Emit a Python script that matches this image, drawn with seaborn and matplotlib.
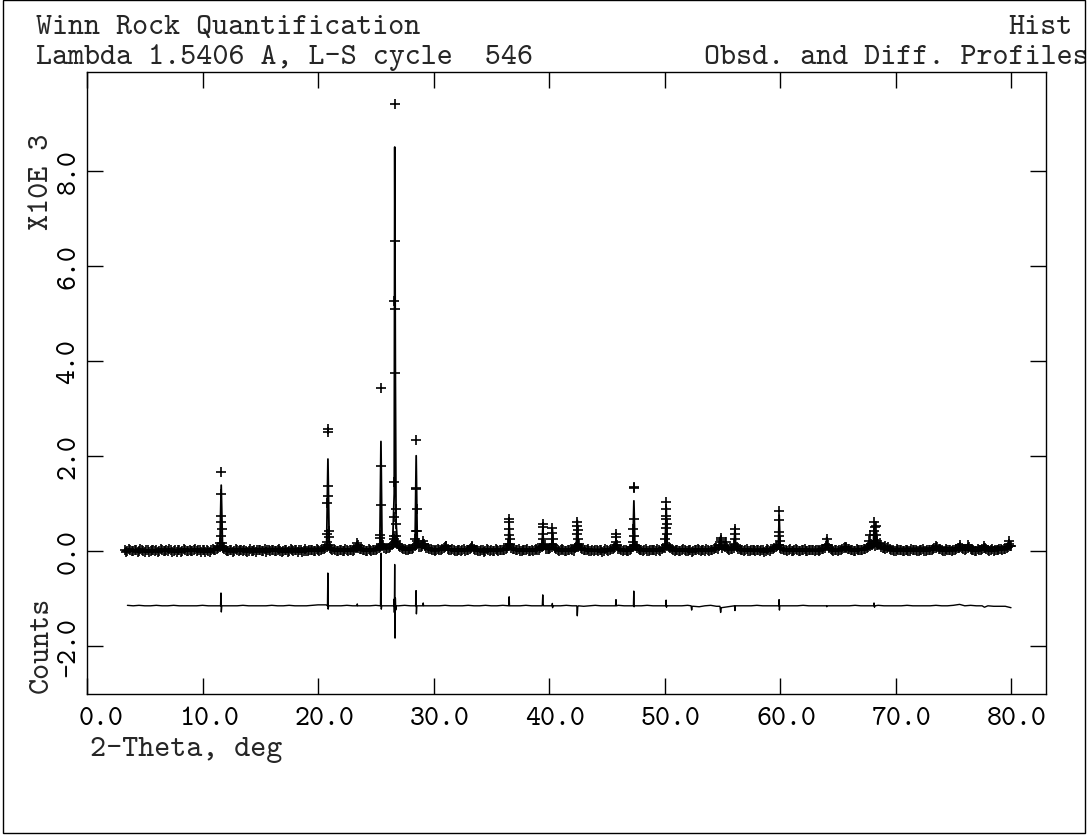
import numpy as np
import pandas as pd
import matplotlib
matplotlib.use("Agg")
import matplotlib.pyplot as plt
import seaborn as sns
from matplotlib.patches import Rectangle
from matplotlib.transforms import ScaledTranslation

# ---------------- data (2-theta in deg, counts in thousands) ----------------
# background observations, step scan read at 0.25 deg (grid A) and offset 0.125 deg (grid B)
base_start, base_step = 3.25, 0.25
obs_base = [
    0.01, -0.01, 0.02,                       # 3.25-3.75
    0.00, 0.02, -0.01, 0.01,   -0.02, 0.01, 0.00, 0.02,   0.01, -0.01, 0.01, 0.00,   # 4-6
    -0.01, 0.02, 0.00, -0.02,  0.01, 0.00, 0.02, -0.01,   0.00, 0.01, -0.01, 0.02,   # 7-9
    0.01, -0.02, 0.00, 0.01,   0.01, 0.03, 0.07, 0.06,    0.02, 0.00, 0.01, -0.01,   # 10-12
    0.01, 0.02, -0.01, 0.00,   0.00, -0.01, 0.02, 0.01,   0.01, 0.00, -0.02, 0.01,   # 13-15
    0.02, -0.01, 0.01, 0.00,   -0.01, 0.01, 0.00, 0.02,   0.01, -0.02, 0.01, 0.00,   # 16-18
    0.00, 0.02, 0.01, -0.01,   0.01, 0.02, 0.04, 0.08,    0.05, 0.02, 0.01, 0.00,    # 19-21
    0.01, -0.01, 0.02, 0.01,   0.00, 0.05, 0.06, 0.03,    0.01, 0.00, 0.02, 0.01,    # 22-24
    0.02, 0.05, 0.10, 0.06,    0.05, 0.08, 0.14, 0.20,    0.10, 0.05, 0.03, 0.02,    # 25-27
    0.03, 0.06, 0.12, 0.08,    0.10, 0.09, 0.05, 0.03,    0.02, 0.01, 0.02, 0.03,    # 28-30
    0.08, 0.04, 0.02, 0.01,    0.00, 0.02, 0.01, 0.00,    0.02, 0.06, 0.03, 0.01,    # 31-33
    0.00, 0.01, -0.01, 0.02,   0.01, 0.00, 0.02, 0.01,    0.02, 0.04, 0.10, 0.06,    # 34-36
    0.03, 0.01, 0.00, 0.02,    0.01, 0.00, 0.02, 0.01,    0.02, 0.05, 0.09, 0.04,    # 37-39
    0.03, 0.08, 0.05, 0.02,    0.01, 0.02, 0.00, 0.01,    0.02, 0.05, 0.10, 0.05,    # 40-42
    0.02, 0.01, 0.00, 0.02,    0.01, -0.01, 0.01, 0.00,   0.02, 0.01, 0.04, 0.08,    # 43-45
    0.04, 0.02, 0.01, 0.00,    0.02, 0.07, 0.09, 0.04,    0.02, 0.01, 0.00, 0.02,    # 46-48
    0.01, 0.00, 0.02, 0.03,    0.06, 0.10, 0.05, 0.02,    0.01, 0.00, 0.02, 0.01,    # 49-51
    0.00, 0.01, -0.01, 0.02,   0.01, 0.02, 0.00, 0.01,    0.02, 0.03, 0.06, 0.09,    # 52-54
    0.06, 0.08, 0.04, 0.03,    0.06, 0.08, 0.03, 0.01,    0.02, 0.00, 0.01, 0.02,    # 55-57
    0.01, -0.01, 0.02, 0.00,   0.01, 0.03, 0.05, 0.09,    0.06, 0.03, 0.01, 0.02,    # 58-60
    0.00, 0.01, 0.02, -0.01,   0.01, 0.00, 0.02, 0.01,    0.00, 0.02, 0.01, 0.03,    # 61-63
    0.09, 0.05, 0.02, 0.01,    0.00, 0.02, 0.05, 0.06,    0.03, 0.01, 0.00, 0.02,    # 64-66
    0.01, 0.03, 0.05, 0.10,    0.12, 0.10, 0.14, 0.08,    0.05, 0.06, 0.03, 0.01,    # 67-69
    0.00, 0.02, 0.01, -0.01,   0.01, 0.00, 0.02, 0.01,    0.00, 0.01, -0.01, 0.02,   # 70-72
    0.01, 0.03, 0.06, 0.04,    0.02, 0.00, 0.01, 0.02,    0.01, 0.03, 0.06, 0.05,    # 73-75
    0.02, 0.05, 0.03, 0.01,    0.00, 0.02, 0.04, 0.05,    0.02, 0.01, 0.00, 0.02,    # 76-78
    0.03, 0.02, 0.04, 0.07,    0.10,                                                 # 79-80
]
base_mid_start = 3.375
obs_base_mid = [
    -0.02, 0.03, 0.00,                                                                   # 3.375-3.875
    0.02, -0.02, 0.03, -0.01,  0.01, -0.03, 0.02, 0.00,   -0.02, 0.03, -0.01, 0.02,    # 4-6
    0.03, -0.02, 0.01, 0.02,   -0.02, 0.03, 0.00, 0.02,   -0.01, 0.03, 0.02, -0.02,    # 7-9
    0.02, 0.01, -0.02, 0.03,   0.01, 0.05, 0.10, 0.04,    0.00, 0.02, -0.02, 0.03,     # 10-12
    -0.01, 0.02, 0.01, -0.02,  0.03, 0.00, -0.02, 0.02,   -0.01, 0.03, 0.01, -0.01,    # 13-15
    0.02, 0.00, 0.03, -0.02,   0.01, -0.02, 0.03, 0.00,   0.02, 0.01, -0.02, 0.03,     # 16-18
    -0.01, 0.02, 0.00, 0.03,   -0.01, 0.03, 0.06, 0.12,   0.03, 0.04, -0.01, 0.02,     # 19-21
    0.00, 0.03, -0.01, 0.02,   0.02, 0.08, 0.04, 0.01,    -0.01, 0.03, 0.00, 0.02,     # 22-24
    0.03, 0.07, 0.12, 0.04,    0.06, 0.11, 0.18, 0.14,    0.07, 0.04, 0.02, 0.03,      # 25-27
    0.04, 0.09, 0.16, 0.07,    0.14, 0.06, 0.03, 0.02,    0.00, 0.03, 0.01, 0.05,      # 28-30
    0.10, 0.02, 0.03, -0.01,   0.02, -0.01, 0.03, 0.01,   0.04, 0.09, 0.02, 0.00,      # 31-33
    0.02, -0.02, 0.03, 0.00,   -0.01, 0.03, 0.00, 0.02,   0.01, 0.06, 0.14, 0.04,      # 34-36
    0.02, 0.03, -0.01, 0.01,   0.03, -0.01, 0.00, 0.03,   0.01, 0.08, 0.12, 0.03,      # 37-39
    0.05, 0.12, 0.03, 0.00,    0.03, -0.01, 0.02, 0.03,   0.00, 0.07, 0.14, 0.03,      # 40-42
    0.01, 0.03, -0.01, 0.00,   0.02, 0.01, -0.02, 0.03,   0.00, 0.03, 0.06, 0.12,      # 43-45
    0.03, 0.00, 0.02, -0.01,   0.04, 0.12, 0.06, 0.02,    0.00, 0.03, -0.01, 0.01,     # 46-48
    0.02, 0.03, 0.00, 0.05,    0.12, 0.07, 0.03, 0.00,    0.02, -0.01, 0.03, 0.00,     # 49-51
    0.02, -0.02, 0.01, 0.03,   0.00, 0.02, 0.03, -0.01,   0.01, 0.05, 0.04, 0.12,      # 52-54
    0.10, 0.05, 0.02, 0.04,    0.10, 0.04, 0.02, 0.00,    0.03, -0.01, 0.02, 0.00,     # 55-57
    0.02, 0.01, -0.02, 0.03,   0.00, 0.04, 0.07, 0.13,    0.04, 0.02, 0.00, 0.03,      # 58-60
    -0.01, 0.03, 0.00, 0.02,   0.03, -0.01, 0.01, 0.02,   0.01, 0.00, 0.03, 0.05,      # 61-63
    0.12, 0.03, 0.00, 0.02,    0.01, 0.03, 0.08, 0.04,    0.02, 0.00, 0.03, 0.01,      # 64-66
    0.02, 0.04, 0.08, 0.14,    0.16, 0.12, 0.17, 0.06,    0.04, 0.08, 0.02, 0.00,      # 67-69
    0.03, 0.01, -0.01, 0.02,   0.00, 0.03, 0.01, -0.01,   0.02, 0.03, 0.00, 0.01,      # 70-72
    0.02, 0.05, 0.08, 0.03,    0.00, 0.03, 0.02, 0.00,    0.02, 0.05, 0.08, 0.04,      # 73-75
    0.04, 0.07, 0.02, 0.00,    0.03, 0.01, 0.06, 0.04,    0.00, 0.03, 0.01, 0.02,      # 76-78
    0.04, 0.03, 0.06, 0.09,                                                              # 79
]

obs_peak_tth = [
    11.54, 11.56, 11.58, 11.60, 11.62, 11.64, 11.66, 11.68,
    20.78, 20.80, 20.82, 20.84, 20.86, 20.88, 20.90, 20.92, 20.94,
    23.38, 23.40, 23.42,
    25.39, 25.41, 25.43, 25.45, 25.47, 25.49,
    26.54, 26.56, 26.58, 26.60, 26.62, 26.64, 26.66, 26.68, 26.70, 26.72, 26.74, 26.76,
    28.44, 28.46, 28.48, 28.50, 28.52, 28.54, 28.56, 28.58,
    29.10, 29.14, 31.05, 33.30,
    36.49, 36.51, 36.53, 36.55, 36.57, 36.59,
    39.42, 39.44, 39.46, 39.48, 39.50,
    40.26, 40.28, 40.30, 40.32,
    42.39, 42.41, 42.43, 42.45, 42.47, 42.49,
    45.78, 45.80, 45.82,
    47.29, 47.31, 47.33, 47.35, 47.37, 47.39,
    50.07, 50.09, 50.11, 50.13, 50.15, 50.17, 50.19, 50.21,
    54.83, 54.87, 54.90, 55.30,
    56.06, 56.08, 56.10, 56.12,
    59.87, 59.89, 59.91, 59.93, 59.95, 59.97,
    64.03, 64.05, 65.70,
    67.73, 67.77, 68.11, 68.15, 68.19, 68.31, 68.35, 68.39,
    69.10, 73.50, 75.60, 76.30, 77.70, 79.80, 79.85,
]
obs_peak_cnt = [
    0.16, 0.30, 0.60, 1.19, 1.66, 0.73, 0.46, 0.16,
    0.18, 0.35, 1.00, 2.49, 2.56, 1.36, 1.15, 0.41, 0.28,
    0.10, 0.16, 0.12,
    0.27, 0.33, 0.96, 3.42, 1.79, 0.15,
    0.25, 0.31, 0.71, 1.45, 5.26, 9.40, 6.52, 5.08, 3.75, 0.88, 0.56, 0.31,
    0.25, 0.41, 1.30, 2.33, 1.32, 0.88, 0.41, 0.20,
    0.21, 0.15, 0.10, 0.08,
    0.15, 0.33, 0.61, 0.67, 0.46, 0.25,
    0.15, 0.35, 0.56, 0.50, 0.25,
    0.15, 0.37, 0.47, 0.25,
    0.12, 0.35, 0.52, 0.60, 0.44, 0.25,
    0.18, 0.35, 0.29,
    0.18, 0.46, 1.34, 1.33, 0.67, 0.31,
    0.25, 0.47, 0.74, 1.03, 0.88, 0.67, 0.56, 0.35,
    0.18, 0.27, 0.22, 0.18,
    0.14, 0.35, 0.46, 0.25,
    0.12, 0.31, 0.65, 0.84, 0.40, 0.21,
    0.12, 0.25, 0.08,
    0.21, 0.33, 0.41, 0.60, 0.50, 0.33, 0.52, 0.21,
    0.10, 0.10, 0.13, 0.12, 0.10, 0.15, 0.21,
]

calc_tth = [
    3.25,
    11.50, 11.62, 11.74,
    20.74, 20.86, 20.98,
    23.32, 23.40, 23.48,
    25.35, 25.45, 25.55,
    26.45, 26.60, 26.645, 26.70, 26.76, 26.90,
    28.40, 28.50, 28.60,
    29.04, 29.12, 29.20,
    36.45, 36.55, 36.65,
    39.38, 39.46, 39.55,
    40.22, 40.30, 40.38,
    42.35, 42.45, 42.55,
    45.72, 45.80, 45.88,
    47.25, 47.35, 47.45,
    50.05, 50.15, 50.25,
    54.80, 54.87, 54.95,
    56.02, 56.10, 56.18,
    59.85, 59.93, 60.02,
    63.98, 64.05, 64.12,
    68.05, 68.15, 68.25, 68.35, 68.45,
    80.00,
]
calc_cnt = [
    0.01,
    0.04, 1.38, 0.04,
    0.05, 1.93, 0.05,
    0.03, 0.12, 0.03,
    0.04, 2.30, 0.05,
    0.08, 1.20, 8.50, 3.60, 0.60, 0.08,
    0.06, 2.00, 0.10,
    0.06, 0.17, 0.04,
    0.03, 0.58, 0.03,
    0.03, 0.46, 0.03,
    0.03, 0.45, 0.03,
    0.03, 0.64, 0.03,
    0.03, 0.25, 0.03,
    0.03, 1.05, 0.03,
    0.04, 0.92, 0.04,
    0.03, 0.30, 0.03,
    0.03, 0.50, 0.03,
    0.04, 0.75, 0.04,
    0.03, 0.28, 0.03,
    0.05, 0.50, 0.10, 0.42, 0.04,
    0.08,
]

diff_start, diff_step = 3.5, 0.5
diff_base = [
    -1.15, -1.16, -1.15, -1.16, -1.16, -1.15, -1.16, -1.16, -1.15, -1.16, -1.16, -1.16, -1.16, -1.15,
    -1.16, -1.16, -1.15, -1.16, -1.16, -1.16, -1.15, -1.16, -1.16, -1.16,
    -1.16, -1.15, -1.16, -1.16, -1.15, -1.16, -1.16, -1.16, -1.15, -1.14,
    -1.14, -1.16, -1.16, -1.16, -1.15, -1.16, -1.15, -1.16, -1.16, -1.15,
    -1.14, -1.16, -1.15, -1.16, -1.15, -1.16, -1.15, -1.16, -1.16, -1.16,
    -1.16, -1.15, -1.16, -1.16, -1.16, -1.15, -1.16, -1.16, -1.15, -1.16,
    -1.16, -1.15, -1.16, -1.16, -1.16, -1.15, -1.16, -1.16, -1.15, -1.16,
    -1.16, -1.16, -1.15, -1.16, -1.18, -1.17, -1.16, -1.15, -1.16, -1.16,
    -1.16, -1.15, -1.16, -1.16, -1.16, -1.16, -1.15, -1.16, -1.16, -1.16,
    -1.16, -1.16, -1.16, -1.15, -1.17, -1.18, -1.16, -1.15, -1.17, -1.19,
    -1.18, -1.17, -1.16, -1.16, -1.16, -1.15, -1.16, -1.16, -1.16, -1.16,
    -1.16, -1.16, -1.16, -1.15, -1.16, -1.16, -1.16, -1.15, -1.16, -1.16,
    -1.16, -1.16, -1.15, -1.16, -1.16, -1.16, -1.15, -1.16, -1.16, -1.16,
    -1.16, -1.15, -1.16, -1.16, -1.16, -1.16, -1.15, -1.16, -1.16, -1.15,
    -1.16, -1.16, -1.15, -1.16, -1.16, -1.16, -1.17, -1.17, -1.17, -1.20,
]
diff_spike_tth = [
    11.56, 11.60, 11.63, 11.67,
    20.70, 20.82, 20.85, 20.88, 20.92,
    23.38, 23.40, 23.43,
    25.41, 25.45, 25.48, 25.52,
    26.55, 26.59, 26.61, 26.64, 26.67, 26.70, 26.73, 26.78,
    28.45, 28.49, 28.52, 28.56,
    29.08, 29.11, 29.14,
    36.51, 36.55, 36.58,
    39.42, 39.46, 39.49, 39.53,
    40.26, 40.29, 40.31, 40.34,
    42.41, 42.45, 42.49, 42.55,
    45.76, 45.80, 45.84,
    47.31, 47.34, 47.37, 47.40,
    50.11, 50.14, 50.17, 50.20,
    52.30, 52.35, 52.40,
    54.80, 54.86, 54.92,
    56.06, 56.10, 56.14,
    59.89, 59.92, 59.95, 59.98,
    64.01, 64.05, 64.09,
    68.10, 68.14, 68.18, 68.22,
    75.55, 77.70,
]
diff_spike_val = [
    -1.16, -0.89, -1.29, -1.16,
    -1.14, -1.16, -0.47, -1.23, -1.16,
    -1.16, -1.12, -1.16,
    -1.16, -0.05, -1.23, -1.16,
    -1.16, -1.02, -1.30, -0.29, -1.84, -1.00, -1.25, -1.16,
    -1.16, -0.84, -1.33, -1.16,
    -1.16, -1.10, -1.16,
    -1.16, -0.97, -1.16,
    -1.16, -0.93, -1.12, -1.16,
    -1.16, -1.11, -1.20, -1.16,
    -1.16, -1.37, -1.18, -1.16,
    -1.16, -1.03, -1.16,
    -1.16, -0.85, -1.18, -1.16,
    -1.16, -1.04, -1.19, -1.16,
    -1.16, -1.25, -1.17,
    -1.17, -1.30, -1.20,
    -1.16, -1.26, -1.16,
    -1.16, -1.03, -1.25, -1.16,
    -1.16, -1.18, -1.16,
    -1.16, -1.10, -1.19, -1.16,
    -1.13, -1.19,
]

x_ticks = [0, 10, 20, 30, 40, 50, 60, 70, 80]
x_tick_labels = ["0.0", "10.0", "20.0", "30.0", "40.0", "50.0", "60.0", "70.0", "80.0"]
y_ticks = [-2, 0, 2, 4, 6, 8]
y_tick_labels = ["-2.0", "0.0", "2.0", "4.0", "6.0", "8.0"]

# ---------------- assemble tables ----------------
base_tth = base_start + base_step * np.arange(len(obs_base))
mid_tth = base_mid_start + base_step * np.arange(len(obs_base_mid))
obs = pd.DataFrame({
    "tth": np.concatenate([base_tth, mid_tth, obs_peak_tth]),
    "cnt": np.concatenate([obs_base, obs_base_mid, obs_peak_cnt]),
})
calc = pd.DataFrame({"tth": calc_tth, "cnt": calc_cnt})

dbase_tth = diff_start + diff_step * np.arange(len(diff_base))
spk = np.array(diff_spike_tth)
keep = np.array([np.min(np.abs(spk - t)) > 0.1 for t in dbase_tth])
diff = pd.DataFrame({
    "tth": np.concatenate([dbase_tth[keep], spk]),
    "cnt": np.concatenate([np.array(diff_base)[keep], diff_spike_val]),
}).sort_values("tth")

# ---------------- figure ----------------
W, H = 1089, 837
sns.set_theme(style="white")
plt.rcParams["font.family"] = ["cmtt10", "DejaVu Sans Mono"]
plt.rcParams["axes.unicode_minus"] = False

fig = plt.figure(figsize=(W / 100, H / 100), dpi=100)
fig.patch.set_facecolor("white")

ax_l, ax_r, ax_t, ax_b = 87, 1046, 73, 695
ax = fig.add_axes([ax_l / W, (H - ax_b) / H, (ax_r - ax_l) / W, (ax_b - ax_t) / H])
ax.set_facecolor("white")

sns.scatterplot(data=obs, x="tth", y="cnt", marker="+", s=52, color="black",
                linewidth=1.2, legend=False, ax=ax, zorder=2)
sns.lineplot(data=calc, x="tth", y="cnt", color="black", linewidth=1.3,
             estimator=None, sort=False, legend=False, ax=ax, zorder=3)
sns.lineplot(data=diff, x="tth", y="cnt", color="black", linewidth=1.0,
             estimator=None, sort=False, legend=False, ax=ax, zorder=3)

ax.set_xlim(0, 83.03)
ax.set_ylim(-3.017, 10.08)
ax.set_xlabel("")
ax.set_ylabel("")

for s in ax.spines.values():
    s.set_color("black")
    s.set_linewidth(1.0)
    s.set_visible(True)

ax.set_xticks(x_ticks)
ax.set_xticklabels(x_tick_labels)
ax.set_yticks(y_ticks)
ax.set_yticklabels(y_tick_labels, rotation=90, va="center")
ax.tick_params(axis="both", which="major", direction="in", length=11.5, width=1.0,
               color="black", labelsize=20.5, labelcolor="black",
               top=True, right=True, bottom=True, left=True)
ax.tick_params(axis="x", pad=9)
ax.tick_params(axis="y", pad=4)

for i, lab in enumerate(ax.get_xticklabels()):
    dx = 14 if i == 0 else 6
    lab.set_transform(lab.get_transform() + ScaledTranslation(dx / 100, 0, fig.dpi_scale_trans))

fs = 22
fig.text(36 / W, 1 - 34 / H, "Winn Rock Quantification", fontsize=fs, va="baseline", ha="left")
fig.text(1008 / W, 1 - 34 / H, "Hist", fontsize=fs, va="baseline", ha="left")
fig.text(36 / W, 1 - 64 / H, "Lambda 1.5406 A, L-S cycle  546", fontsize=fs, va="baseline", ha="left")
fig.text(704 / W, 1 - 64 / H, "Obsd. and Diff. Profiles", fontsize=fs, va="baseline", ha="left")

fig.text(90 / W, 1 - 750 / H, "2-Theta, deg", fontsize=fs, va="center", ha="left")
fig.text(42 / W, 1 - 693 / H, "Counts", fontsize=fs, rotation=90, va="bottom", ha="center")
fig.text(42 / W, 1 - 182 / H, "X10E 3", fontsize=fs, rotation=90, va="center", ha="center")

# clip region beyond the frame, then the frame itself
fig.add_artist(Rectangle((1086 / W, 0), 3 / W, 1, transform=fig.transFigure,
                         facecolor="white", edgecolor="none", zorder=10))
fig.add_artist(Rectangle((3 / W, 3 / H), 1082 / W, 833 / H, transform=fig.transFigure,
                         fill=False, edgecolor="black", linewidth=1.0, zorder=11))

fig.savefig("out.png", dpi=100, facecolor="white")
